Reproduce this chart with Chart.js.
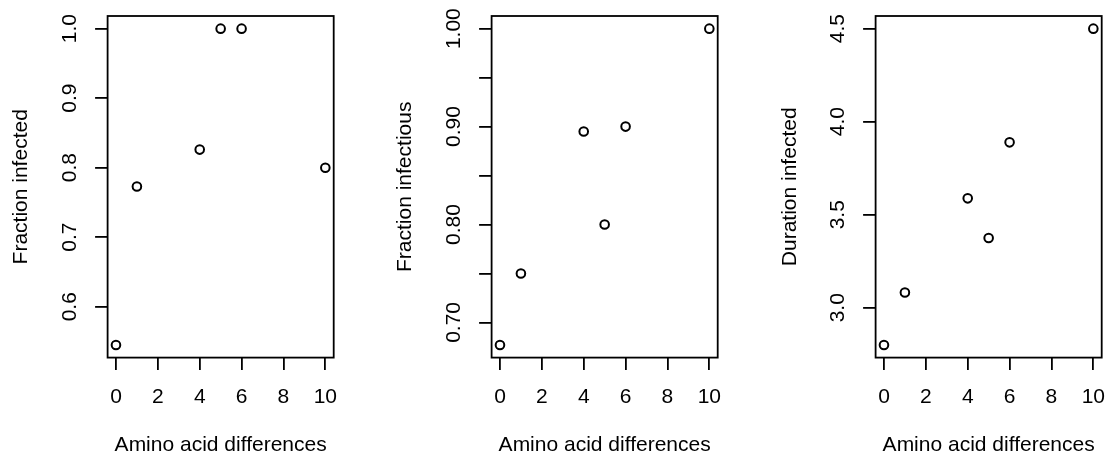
<!DOCTYPE html>
<html>
<head>
<meta charset="utf-8">
<script src="https://cdn.jsdelivr.net/npm/chart.js@4.4.0/dist/chart.umd.min.js"></script>
<style>
  html, body { margin: 0; padding: 0; background: #fff; }
  body { width: 1108px; height: 456px; position: relative; overflow: hidden; }
  .panel { position: absolute; top: 0; width: 340px; height: 456px; }
</style>
</head>
<body>
<div class="panel" style="left:0px"><canvas id="c1" width="340" height="456"></canvas></div>
<div class="panel" style="left:384px"><canvas id="c2" width="340" height="456"></canvas></div>
<div class="panel" style="left:768px"><canvas id="c3" width="340" height="456"></canvas></div>
<script>
// ---- data ----
const aminoDiffs = [0, 1, 4, 5, 6, 10];
const fractionInfected = [0.545, 0.773, 0.826, 1.000, 1.000, 0.800];
const fractionInfectious = [0.677, 0.750, 0.895, 0.800, 0.900, 1.000];
const durationInfected = [2.800, 3.082, 3.588, 3.375, 3.889, 4.500];

const xTickValues = [0, 2, 4, 6, 8, 10];
const xTickLabels = ['0', '2', '4', '6', '8', '10'];
const yTicksInfected = [0.6, 0.7, 0.8, 0.9, 1.0];
const yLabelsInfected = ['0.6', '0.7', '0.8', '0.9', '1.0'];
const yTicksInfectious = [0.70, 0.75, 0.80, 0.85, 0.90, 0.95, 1.00];
const yLabelsInfectious = ['0.70', '', '0.80', '', '0.90', '', '1.00'];
const yTicksDuration = [3.0, 3.5, 4.0, 4.5];
const yLabelsDuration = ['3.0', '3.5', '4.0', '4.5'];

const xTitle = 'Amino acid differences';

// ---- helpers ----
const FONT = '"Liberation Sans", Arial, Helvetica, sans-serif';
function rlim(arr) {
  const mn = Math.min(...arr), mx = Math.max(...arr);
  const d = (mx - mn) * 0.04;
  return [mn - d, mx + d];
}
function noPad(s) {
  s.paddingTop = 0; s.paddingBottom = 0; s.paddingLeft = 0; s.paddingRight = 0;
}

const boxPlugin = {
  id: 'rbox',
  afterDraw(chart) {
    const {ctx, chartArea: a} = chart;
    ctx.save();
    ctx.strokeStyle = '#000';
    ctx.lineWidth = 1.8;
    ctx.strokeRect(a.left, a.top, a.right - a.left, a.bottom - a.top);
    ctx.restore();
  }
};

function makePanel(id, yVals, yTicks, yLabels, yTitle, tickPad, titlePad) {
  const [xmin, xmax] = rlim(aminoDiffs);
  const [ymin, ymax] = rlim(yVals);
  const pts = aminoDiffs.map((x, i) => ({x: x, y: yVals[i]}));
  new Chart(document.getElementById(id), {
    type: 'scatter',
    data: {
      datasets: [{
        data: pts,
        pointStyle: 'circle',
        pointRadius: 4.3,
        pointHoverRadius: 4.3,
        pointBorderWidth: 2,
        pointBorderColor: '#000',
        pointBackgroundColor: 'rgba(0,0,0,0)'
      }]
    },
    options: {
      responsive: false,
      animation: false,
      devicePixelRatio: 1,
      layout: { padding: { left: 0, right: 5.6, top: 16, bottom: 0 } },
      plugins: { legend: { display: false }, tooltip: { enabled: false } },
      events: [],
      scales: {
        x: {
          type: 'linear',
          position: 'bottom',
          min: xmin, max: xmax,
          afterBuildTicks: s => { s.ticks = xTickValues.map(v => ({value: v})); },
          afterFit: s => { s.height = 98.4; noPad(s); },
          grid: { drawOnChartArea: false, drawTicks: true, tickLength: 12.5, color: '#000', lineWidth: 1.8 },
          border: { display: false },
          ticks: {
            autoSkip: false,
            maxRotation: 0, minRotation: 0,
            padding: 16.4,
            color: '#000',
            font: { family: FONT, size: 21, lineHeight: 1 },
            callback: (v, i) => xTickLabels[i]
          },
          title: {
            display: true, text: xTitle, color: '#000',
            font: { family: FONT, size: 21, lineHeight: 1 },
            padding: { top: 0, bottom: 0 }
          }
        },
        y: {
          type: 'linear',
          position: 'left',
          min: ymin, max: ymax,
          afterBuildTicks: s => { s.ticks = yTicks.map(v => ({value: v})); },
          afterFit: s => { s.width = 107.6; noPad(s); },
          grid: { drawOnChartArea: false, drawTicks: true, tickLength: 12.5, color: '#000', lineWidth: 1.8 },
          border: { display: false },
          ticks: {
            autoSkip: false,
            minRotation: 90, maxRotation: 90,
            crossAlign: 'center',
            padding: tickPad,
            color: '#000',
            font: { family: FONT, size: 21, lineHeight: 1 },
            callback: (v, i) => yLabels[i]
          },
          title: {
            display: true, text: yTitle, color: '#000',
            font: { family: FONT, size: 21, lineHeight: 1 },
            padding: { top: titlePad, bottom: 0 }
          }
        }
      }
    },
    plugins: [boxPlugin]
  });
}

makePanel('c1', fractionInfected, yTicksInfected, yLabelsInfected, 'Fraction infected', 10, 10.5);
makePanel('c2', fractionInfectious, yTicksInfectious, yLabelsInfectious, 'Fraction infectious', 4.5, 10.9);
makePanel('c3', durationInfected, yTicksDuration, yLabelsDuration, 'Duration infected', 10, 12);
</script>
</body>
</html>
